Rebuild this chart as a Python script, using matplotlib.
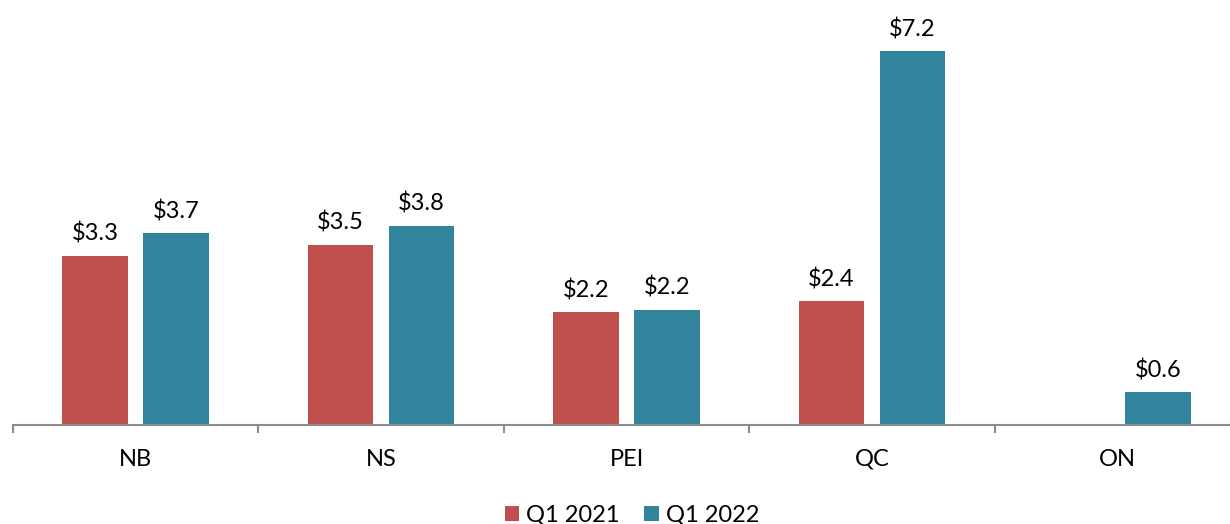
import numpy as np
import matplotlib
matplotlib.use('Agg')
import matplotlib.pyplot as plt

plt.rcParams['font.family'] = ['Lato', 'DejaVu Sans']

# data
provinces = ['NB', 'NS', 'PEI', 'QC', 'ON']
q1_2021 = [3.25, 3.46, 2.17, 2.38, np.nan]
q1_2022 = [3.69, 3.83, 2.21, 7.19, 0.63]
labels_2021 = ['$3.3', '$3.5', '$2.2', '$2.4', '']
labels_2022 = ['$3.7', '$3.8', '$2.2', '$7.2', '$0.6']
series_names = ['Q1 2021', 'Q1 2022']

red = '#C0504D'
teal = '#31849B'

fig = plt.figure(figsize=(12.3, 5.24), dpi=100)
# axes runs slightly past the right edge like the original
ax = fig.add_axes([13 / 1230, 99 / 524, 1227 / 1230, 425 / 524])

x = np.arange(len(provinces))
w = 0.268
off = 0.165
b1 = ax.bar(x - off, q1_2021, w, color=red, label=series_names[0])
b2 = ax.bar(x + off, q1_2022, w, color=teal, label=series_names[1])

for bars, vals, labs in [(b1, q1_2021, labels_2021), (b2, q1_2022, labels_2022)]:
    for rect, v, lab in zip(bars, vals, labs):
        if np.isnan(v):
            continue
        ax.annotate(lab, (rect.get_x() + rect.get_width() / 2, v),
                    xytext=(0, 8), textcoords='offset points',
                    ha='center', va='bottom', fontsize=17, color='#000000')

ax.set_xlim(-0.5, 4.5)
ax.set_ylim(0, 425 / 52)
ax.set_yticks([])
for s in ['top', 'right', 'left']:
    ax.spines[s].set_visible(False)
ax.spines['bottom'].set_color('#8c8c8c')
ax.spines['bottom'].set_linewidth(1.5)

ax.set_xticks(np.arange(-0.5, 5.0, 1.0))
ax.set_xticklabels([])
ax.set_xticks(x, minor=True)
ax.set_xticklabels(provinces, minor=True, fontsize=17)
ax.tick_params(axis='x', which='major', length=6, width=1.5, color='#8c8c8c')
ax.tick_params(axis='x', which='minor', length=0, pad=17)

fig.legend(handles=[b1, b2], labels=series_names, loc='center',
           bbox_to_anchor=(632 / 1230, 9 / 524), ncol=2, frameon=False,
           fontsize=17, handlelength=0.6, handleheight=0.6,
           handletextpad=0.3, columnspacing=1.05)

fig.savefig('out.png', dpi=100)
